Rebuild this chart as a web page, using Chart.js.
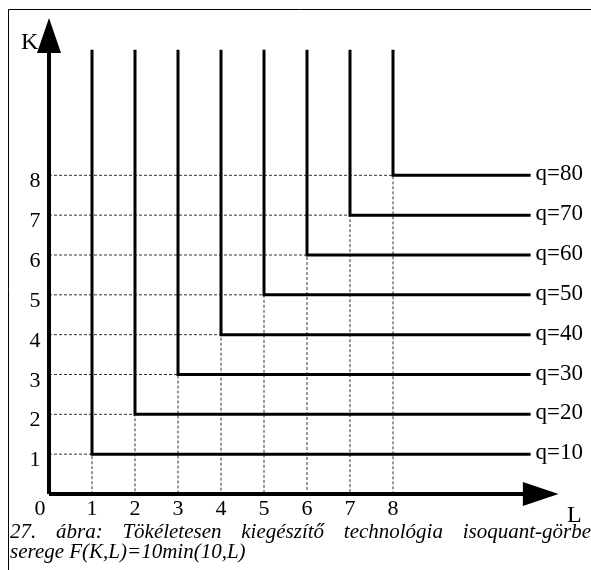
<!DOCTYPE html>
<html>
<head>
<meta charset="utf-8">
<script src="https://cdn.jsdelivr.net/npm/chart.js@4/dist/chart.umd.min.js"></script>
<style>
  html, body { margin: 0; padding: 0; background: #fff; }
  canvas { display: block; }
</style>
</head>
<body>
<canvas id="isoChart" width="591" height="570"></canvas>
<script>
// corners of the isoquants (L = K) and their output levels
const corners = [1, 2, 3, 4, 5, 6, 7, 8];
const outputs = [10, 20, 30, 40, 50, 60, 70, 80];
const lTicks = ['1', '2', '3', '4', '5', '6', '7', '8'];
const kTicks = ['1', '2', '3', '4', '5', '6', '7', '8'];
// how far the lines and axes run
const lineTop = 11.15;
const lineEnd = 11.2;
const axisMax = 12;
const captionLine1 = ['27.', 'ábra:', 'Tökéletesen', 'kiegészítő', 'technológia', 'isoquant-görbe'];
const captionLine2 = 'serege F(K,L)=10min(10,L)';

document.addEventListener('DOMContentLoaded', () => {
    const serif = "'Liberation Serif', 'Times New Roman', serif";

    const datasets = [];

    // dashed guide lines
    corners.forEach((c) => {
        datasets.push({
            data: [{ x: 0, y: c }, { x: c, y: c }, { x: c, y: 0 }],
            borderColor: '#333',
            borderWidth: 1,
            borderDash: [3, 2],
            order: 3
        });
    });

    // isoquants
    corners.forEach((c) => {
        datasets.push({
            data: [{ x: c, y: lineTop }, { x: c, y: c }, { x: lineEnd, y: c }],
            borderColor: '#000',
            borderWidth: 3,
            order: 2
        });
    });

    // axes
    datasets.push({
        data: [{ x: 0, y: 0 }, { x: 0, y: 11.1 }],
        borderColor: '#000',
        borderWidth: 4,
        order: 1
    });
    datasets.push({
        data: [{ x: 0, y: 0 }, { x: 11.05, y: 0 }],
        borderColor: '#000',
        borderWidth: 4,
        order: 1
    });

    datasets.forEach((d) => {
        d.showLine = true;
        d.pointRadius = 0;
        d.fill = false;
        d.clip = false;
        d.borderCapStyle = 'butt';
        d.borderJoinStyle = 'miter';
    });

    const decorations = {
        id: 'decorations',
        afterDraw(chart) {
            const ctx = chart.ctx;
            const xs = chart.scales.x;
            const ys = chart.scales.y;
            ctx.save();

            // frame
            ctx.strokeStyle = '#000';
            ctx.lineWidth = 1;
            ctx.beginPath();
            ctx.moveTo(8.5, 570);
            ctx.lineTo(8.5, 9.5);
            ctx.lineTo(591, 9.5);
            ctx.stroke();

            // arrow heads
            ctx.fillStyle = '#000';
            const x0 = xs.getPixelForValue(0);
            const y0 = ys.getPixelForValue(0);
            ctx.beginPath();
            ctx.moveTo(x0, ys.getPixelForValue(11.95));
            ctx.lineTo(x0 - 12, ys.getPixelForValue(11.07));
            ctx.lineTo(x0 + 12, ys.getPixelForValue(11.07));
            ctx.closePath();
            ctx.fill();
            ctx.beginPath();
            ctx.moveTo(xs.getPixelForValue(11.85), y0);
            ctx.lineTo(xs.getPixelForValue(11.02), y0 - 12);
            ctx.lineTo(xs.getPixelForValue(11.02), y0 + 12);
            ctx.closePath();
            ctx.fill();

            // tick labels
            ctx.font = '22px ' + serif;
            ctx.textAlign = 'center';
            ctx.textBaseline = 'alphabetic';
            kTicks.forEach((t, i) => {
                ctx.fillText(t, 35, ys.getPixelForValue(i + 1) + 12);
            });
            lTicks.forEach((t, i) => {
                ctx.fillText(t, xs.getPixelForValue(i + 1), y0 + 21);
            });
            ctx.fillText('0', 40, y0 + 21);

            // axis titles
            ctx.font = '24px ' + serif;
            ctx.textAlign = 'left';
            ctx.fillText('K', 21, 49);
            ctx.fillText('L', 567, 522);

            // output labels
            ctx.font = '23px ' + serif;
            outputs.forEach((q, i) => {
                ctx.fillText('q=' + q, xs.getPixelForValue(lineEnd) + 5, ys.getPixelForValue(corners[i]) + 5);
            });

            // caption, justified (runs past the right edge)
            ctx.font = 'italic 21px ' + serif;
            const widths = captionLine1.map((w) => ctx.measureText(w).width);
            const total = widths.reduce((a, b) => a + b, 0);
            const gap = (591 - 10 - total) / (captionLine1.length - 1);
            let cx = 10;
            captionLine1.forEach((w, i) => {
                ctx.fillText(w, cx, 538);
                cx += widths[i] + gap;
            });
            ctx.fillText(captionLine2, 10, 558);

            ctx.restore();
        }
    };

    new Chart(document.getElementById('isoChart').getContext('2d'), {
        type: 'scatter',
        data: { datasets: datasets },
        options: {
            responsive: false,
            animation: false,
            events: [],
            layout: {
                padding: { left: 49, right: 26, top: 16, bottom: 76 }
            },
            plugins: {
                legend: { display: false },
                tooltip: { enabled: false }
            },
            scales: {
                x: { type: 'linear', min: 0, max: axisMax, display: false },
                y: { type: 'linear', min: 0, max: axisMax, display: false }
            }
        },
        plugins: [decorations]
    });
});
</script>
</body>
</html>
